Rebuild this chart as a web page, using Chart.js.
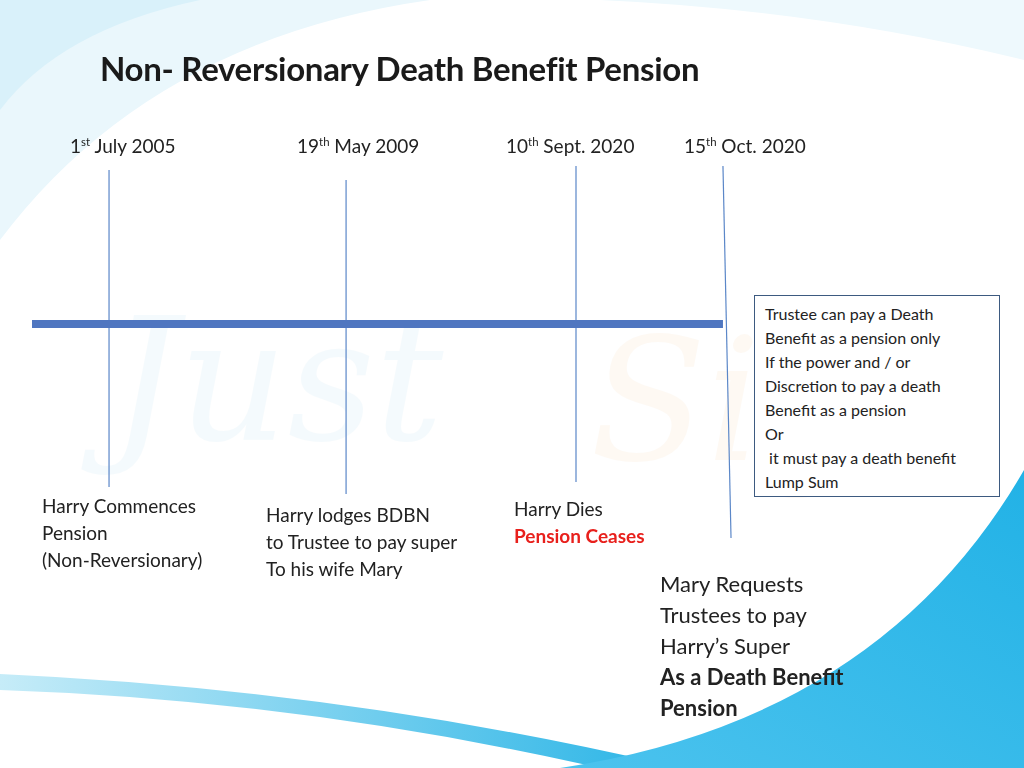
<!DOCTYPE html>
<html>
<head>
<meta charset="utf-8">
<script src="https://cdn.jsdelivr.net/npm/chart.js@4/dist/chart.umd.min.js"></script>
<style>
  html, body { margin: 0; padding: 0; }
  body { width: 1024px; height: 768px; position: relative; overflow: hidden; background: #fff; font-family: Lato, "Open Sans", sans-serif; }
  #bg, #chart { position: absolute; left: 0; top: 0; }
  .t { position: absolute; color: #222; white-space: nowrap; }
  .t sup { font-size: 0.6em; }
  #title { left: 100px; top: 48px; font-size: 33px; font-weight: bold; color: #1a1a1a; letter-spacing: -0.3px; }
  .date { top: 134px; font-size: 19px; }
  .note { font-size: 19px; line-height: 27px; }
  #box { position: absolute; left: 754px; top: 295px; width: 234px; height: 194px; border: 1px solid #3d5a80; background: #fff; padding: 6px 0 0 10px; font-size: 16px; line-height: 24px; color: #222; }
  #mary { left: 660px; top: 568px; font-size: 22px; line-height: 31px; }
</style>
</head>
<body>
<svg id="bg" width="1024" height="768">
  <defs>
    <linearGradient id="g1" x1="0" y1="0" x2="1" y2="0">
      <stop offset="0" stop-color="#c6ecf8"/><stop offset="1" stop-color="#29b4e6"/>
    </linearGradient>
    <linearGradient id="g2" x1="0" y1="1" x2="1" y2="0">
      <stop offset="0" stop-color="#4cc3ee"/><stop offset="1" stop-color="#22b2e6"/>
    </linearGradient>
  </defs>
  <path d="M0,0 L430,0 Q150,40 0,240 Z" fill="#eaf7fc"/>
  <path d="M0,0 L200,0 Q60,30 0,110 Z" fill="#d9f1fa"/>
  <path d="M600,0 L1024,0 L1024,60 Q820,10 600,0 Z" fill="#eef9fd"/>
  <path d="M0,674 Q350,690 680,768 L600,768 Q300,700 0,690 Z" fill="url(#g1)"/>
  <path d="M560,768 Q880,720 1024,470 L1024,768 Z" fill="url(#g2)"/>
  <text x="110" y="440" font-size="170" font-family="DejaVu Serif" font-style="italic" fill="#5ab7e0" opacity="0.06">Just</text>
  <text x="590" y="460" font-size="170" font-family="DejaVu Serif" font-style="italic" fill="#f0a040" opacity="0.06">Sign</text>
</svg>
<canvas id="chart" width="1024" height="768"></canvas>

<div class="t" id="title">Non- Reversionary Death Benefit Pension</div>
<div class="t date" style="left:70px">1<sup>st</sup> July 2005</div>
<div class="t date" style="left:297px">19<sup>th</sup> May 2009</div>
<div class="t date" style="left:506px">10<sup>th</sup> Sept. 2020</div>
<div class="t date" style="left:684px">15<sup>th</sup> Oct. 2020</div>

<div class="t note" style="left:42px; top:492px">Harry Commences<br>Pension<br>(Non-Reversionary)</div>
<div class="t note" style="left:266px; top:501px">Harry lodges BDBN<br>to Trustee to pay super<br>To his wife Mary</div>
<div class="t note" style="left:514px; top:495px">Harry Dies<br><b style="color:#e8201c">Pension Ceases</b></div>
<div class="t" id="mary">Mary Requests<br>Trustees to pay<br>Harry’s Super<br><b>As a Death Benefit<br>Pension</b></div>
<div id="box">Trustee can pay a Death<br>Benefit as a pension only<br>If the power and / or<br>Discretion to pay a death<br>Benefit as a pension<br>Or<br>&nbsp;it must pay a death benefit<br>Lump Sum</div>

<script>
// timeline positions (event index units), y in slide units (top = 0)
const eventNames = ["1st July 2005", "19th May 2009", "10th Sept. 2020", "15th Oct. 2020"];
const eventX = [1, 2, 2.97, 3.59];
const eventXEnd = [1, 2, 2.97, 3.624];
const lineTop = [170, 180, 166, 166];
const lineBottom = [487, 494, 482, 538];
const timelineStart = 0.675;
const timelineY = 324;

const datasets = [{
    label: 'timeline',
    data: [{ x: timelineStart, y: timelineY }, { x: eventX[3], y: timelineY }],
    borderColor: '#4f76c0',
    borderWidth: 8,
    pointRadius: 0
}];
eventNames.forEach((name, i) => {
    datasets.push({
        label: name,
        data: [{ x: eventX[i], y: lineTop[i] }, { x: eventXEnd[i], y: lineBottom[i] }],
        borderColor: '#5b87c8',
        borderWidth: 1.2,
        pointRadius: 0
    });
});

new Chart(document.getElementById('chart'), {
    type: 'line',
    data: { datasets: datasets },
    options: {
        responsive: false,
        animation: { duration: 0 },
        layout: { padding: 0 },
        scales: {
            x: { type: 'linear', min: 0.54, max: 4.86, display: false },
            y: { type: 'linear', min: 0, max: 768, reverse: true, display: false }
        },
        plugins: { legend: { display: false }, tooltip: { enabled: false } }
    }
});
</script>
</body>
</html>
